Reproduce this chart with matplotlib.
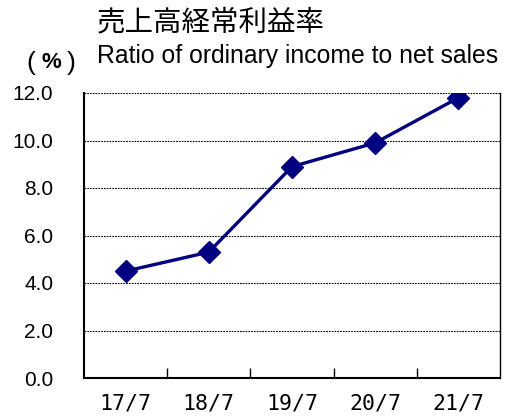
import matplotlib
matplotlib.use("Agg")
import matplotlib.pyplot as plt
import numpy as np

categories = ["17/7", "18/7", "19/7", "20/7", "21/7"]
values = [4.5, 5.3, 8.9, 9.9, 11.8]
yticks = [0.0, 2.0, 4.0, 6.0, 8.0, 10.0, 12.0]

plt.rcParams['font.family'] = ['Noto Sans CJK JP', 'DejaVu Sans']

W, H = 509, 418
fig = plt.figure(figsize=(W/100, H/100), dpi=100)
ax = fig.add_axes([84/W, 1-378/H, (500-84)/W, (378-93)/H])

x = np.arange(len(categories))
ax.plot(x, values, color='#000080', lw=2.4, marker='D', ms=11.5, mfc='#000080', mec='#000080', zorder=3)

ax.set_xlim(-0.5, len(categories)-0.5)
ax.set_ylim(0, 12)
ax.set_yticks(yticks)
ax.set_yticklabels([f"{v:.1f}" for v in yticks], fontsize=15, family=['Liberation Sans'])
ax.tick_params(axis='y', length=0, pad=22)
ax.set_xticks(x)
ax.set_xticklabels(categories, fontsize=15.5, family=['DejaVu Sans Mono'])
ax.tick_params(axis='x', length=0, pad=11)
ax.set_xticks(np.arange(len(categories)-1)+0.5, minor=True)
ax.tick_params(axis='x', which='minor', direction='in', length=7, width=1, color='black')

for v in yticks[1:]:
    ax.axhline(v, color='black', lw=0.8, ls=(0, (1.5, 1)), zorder=1)

for s in ['left', 'bottom']:
    ax.spines[s].set_linewidth(1.5)
ax.spines['right'].set_linewidth(1.0)
ax.spines['top'].set_visible(False)

fig.text(97/W, 1-22/H, "売上高経常利益率", fontsize=20.5, ha='left', va='center')
fig.text(97/W, 1-56/H, "Ratio of ordinary income to net sales", fontsize=17.8,
         ha='left', va='center', family=['Liberation Sans'])
for ch, px, fs in [("(", 31, 19), ("%", 51, 16), (")", 71, 19)]:
    fig.text(px/W, 1-63/H, ch, fontsize=fs, ha='center', va='center',
             family=['Liberation Sans'], fontweight='bold' if ch == '%' else 'normal')

fig.savefig("out.png", dpi=100)
